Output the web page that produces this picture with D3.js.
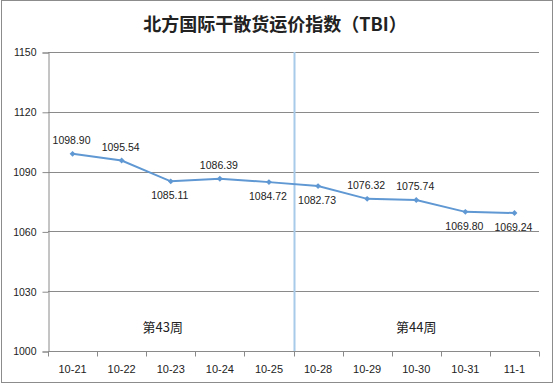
<!DOCTYPE html>
<html><head><meta charset="utf-8">
<script src="https://cdn.jsdelivr.net/npm/d3@7"></script>
<style>body{margin:0;background:#fff}svg{display:block}</style>
</head><body>
<svg id="c" width="554" height="384"></svg>
<script>
const title = "北方国际干散货运价指数（TBI）";
const categories = ["10-21","10-22","10-23","10-24","10-25","10-28","10-29","10-30","10-31","11-1"];
const values = [1098.90,1095.54,1085.11,1086.39,1084.72,1082.73,1076.32,1075.74,1069.80,1069.24];
const labelSide = ["above","above","below","above","below","below","above","above","below","below"];
const yTicks = [1000,1030,1060,1090,1120,1150];
const weekLabels = ["第43周","第44周"];
const weekRanges = [["10-21","10-25"],["10-28","11-1"]];
const weekDivider = "10-28";

const svg = d3.select("#c");
const L = 48, R = 539, T = 52, B = 351;
const x = d3.scaleBand().domain(categories).range([L, R]);
const y = d3.scaleLinear().domain([1000,1150]).range([B, T]);

svg.append("rect").attr("x",1.5).attr("y",0.5).attr("width",551).attr("height",382)
  .attr("fill","#fff").attr("stroke","#8c8c8c").attr("stroke-width",1);

svg.append("text").attr("x",275).attr("y",31).attr("text-anchor","middle")
  .attr("font-family","'Noto Sans CJK SC'").attr("font-weight","bold").attr("font-size",18)
  .attr("fill","#222").text(title);

// gridlines
svg.append("g").selectAll("line").data(yTicks.filter(d=>d>1000)).join("line")
  .attr("x1",L).attr("x2",R).attr("y1",d=>Math.round(y(d))+0.5).attr("y2",d=>Math.round(y(d))+0.5)
  .attr("stroke","#8a8a8a").attr("stroke-width",1);

// y axis
const ya = svg.append("g").attr("transform",`translate(${L+0.5},0.5)`)
  .call(d3.axisLeft(y).tickValues(yTicks).tickSize(6).tickPadding(6).tickFormat(d3.format("d")));
ya.select(".domain").attr("stroke","#8a8a8a");
ya.selectAll(".tick line").attr("stroke","#8a8a8a");
ya.selectAll("text").attr("font-family","'Liberation Sans'").attr("font-size",10.5).attr("fill","#222");

// x axis
const xa = svg.append("g").attr("transform",`translate(0,${B+0.5})`)
  .call(d3.axisBottom(x).tickSize(0).tickPadding(14));
xa.select(".domain").attr("stroke","#8a8a8a").attr("d",`M${L},0H${R}`);
xa.selectAll("text").attr("font-family","'Liberation Sans'").attr("font-size",11).attr("fill","#222");
const bounds = categories.map(c=>x(c)).concat([R]);
xa.append("g").selectAll("line").data(bounds).join("line")
  .attr("x1",d=>Math.round(d)+0.5).attr("x2",d=>Math.round(d)+0.5).attr("y1",0).attr("y2",5)
  .attr("stroke","#8a8a8a");

// week divider
const dx = x(weekDivider) + 1;
svg.append("line").attr("x1",dx).attr("x2",dx).attr("y1",T).attr("y2",B)
  .attr("stroke","#a8cbe9").attr("stroke-width",2);

// week labels (manually placed annotations, like in the original)
const weekShift = [-8, 0];
svg.append("g").selectAll("text").data(weekLabels).join("text")
  .attr("x",(d,i)=>(x(weekRanges[i][0])+x(weekRanges[i][1])+x.bandwidth())/2 + weekShift[i])
  .attr("y",332).attr("text-anchor","middle")
  .attr("font-family","'Noto Sans CJK SC'").attr("font-size",13).attr("fill","#222").text(d=>d);

// line
const cx = c => x(c) + x.bandwidth()/2;
const pts = categories.map((c,i)=>({c, v:values[i], s:labelSide[i]}));
svg.append("path").datum(pts)
  .attr("d", d3.line().x(d=>cx(d.c)).y(d=>y(d.v)))
  .attr("fill","none").attr("stroke","#5f98d3").attr("stroke-width",2);
svg.append("g").selectAll("path").data(pts).join("path")
  .attr("transform",d=>`translate(${cx(d.c)},${y(d.v)})`)
  .attr("d",d3.symbol(d3.symbolDiamond2, 22)).attr("fill","#5f98d3");

// labels
svg.append("g").selectAll("text").data(pts).join("text")
  .attr("x",d=>cx(d.c)-1).attr("y",d=>y(d.v) + (d.s==="above" ? -10 : 18))
  .attr("text-anchor","middle").attr("font-family","'Liberation Sans'").attr("font-size",10.5)
  .attr("fill","#222").text(d=>d.v.toFixed(2));
</script>
</body></html>
